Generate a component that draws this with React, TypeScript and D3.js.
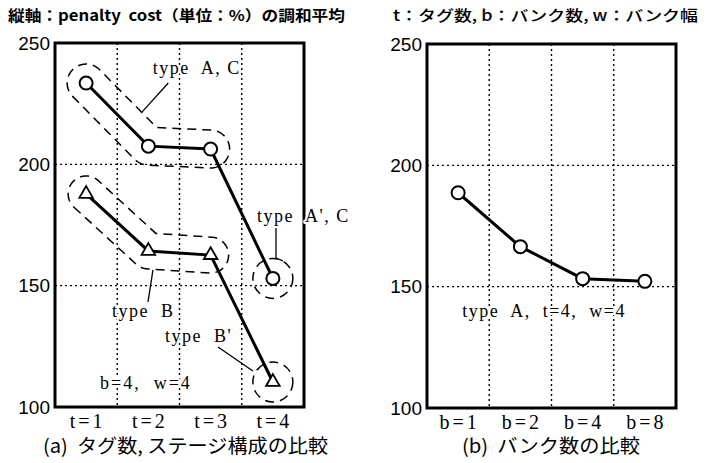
import React from 'react';
import * as d3 from 'd3';

// chart data
const tLabels = ['t=1', 't=2', 't=3', 't=4'];
const typeAC = [233.5, 207.5, 206.3, 153.0];
const typeB = [187.8, 164.3, 162.6, 110.3];
const bLabels = ['b=1', 'b=2', 'b=4', 'b=8'];
const bankCost = [188.7, 166.5, 153.3, 152.2];
const yTicks = [100, 150, 200, 250];
const gridValues = [150, 200];

const W = 708;
const H = 463;
const serif = '"Liberation Serif", "DejaVu Serif", serif';
const sans = '"Liberation Sans", Arial, sans-serif';
const cjk = '"Noto Sans CJK JP", "Noto Sans", sans-serif';

type Pt = [number, number];

// one side of a rounded buffer around a polyline, plus the end cap
function halfOutline(ps: Pt[], r: number, out: Pt[]) {
  const m = ps.length;
  const dir: Pt[] = [];
  for (let i = 0; i < m - 1; i++) {
    const dx = ps[i + 1][0] - ps[i][0];
    const dy = ps[i + 1][1] - ps[i][1];
    const L = Math.hypot(dx, dy);
    dir.push([dx / L, dy / L]);
  }
  const nor: Pt[] = dir.map(([x, y]) => [-y, x]);
  out.push([ps[0][0] + r * nor[0][0], ps[0][1] + r * nor[0][1]]);
  for (let i = 1; i < m - 1; i++) {
    const a = nor[i - 1];
    const b = nor[i];
    const c = dir[i - 1][0] * dir[i][1] - dir[i - 1][1] * dir[i][0];
    if (c > 0) {
      const bx = a[0] + b[0];
      const by = a[1] + b[1];
      const bl = Math.hypot(bx, by);
      const mx = bx / bl;
      const my = by / bl;
      const cs = mx * a[0] + my * a[1];
      out.push([ps[i][0] + (mx * r) / cs, ps[i][1] + (my * r) / cs]);
    } else {
      const a0 = Math.atan2(a[1], a[0]);
      let da = Math.atan2(b[1], b[0]) - a0;
      while (da > Math.PI) da -= 2 * Math.PI;
      while (da < -Math.PI) da += 2 * Math.PI;
      const steps = Math.max(2, Math.ceil(Math.abs(da) / 0.15));
      for (let k = 0; k <= steps; k++) {
        const t = a0 + (da * k) / steps;
        out.push([ps[i][0] + r * Math.cos(t), ps[i][1] + r * Math.sin(t)]);
      }
    }
  }
  const last = ps[m - 1];
  const nl = nor[m - 2];
  const dl = dir[m - 2];
  const steps = 20;
  for (let k = 0; k <= steps; k++) {
    const t = (Math.PI * k) / steps;
    out.push([
      last[0] + r * (Math.cos(t) * nl[0] + Math.sin(t) * dl[0]),
      last[1] + r * (Math.cos(t) * nl[1] + Math.sin(t) * dl[1]),
    ]);
  }
}

function envelope(ps: Pt[], r: number): string {
  const out: Pt[] = [];
  halfOutline(ps, r, out);
  halfOutline(ps.slice().reverse(), r, out);
  return (d3.line()(out) || '') + 'Z';
}

const halo = {
  whiteSpace: 'pre' as const,
  paintOrder: 'stroke' as const,
  stroke: '#fff',
  strokeWidth: 4,
  strokeLinejoin: 'round' as const,
};
const pre = { whiteSpace: 'pre' as const };

function Frame({ x, y, cats }: { x: d3.ScaleBand<string>; y: d3.ScaleLinear<number, number>; cats: string[] }) {
  const [x0, x1] = x.range();
  const [y0, y1] = y.range();
  return (
    <g>
      {gridValues.map((v) => (
        <line key={'h' + v} x1={x0} x2={x1} y1={y(v)} y2={y(v)} stroke="#000" strokeWidth={1.4} strokeDasharray="2,3" />
      ))}
      {cats.slice(1).map((c) => (
        <line key={'v' + c} x1={x(c)!} x2={x(c)!} y1={y1} y2={y0} stroke="#000" strokeWidth={1.4} strokeDasharray="2,3" />
      ))}
      {yTicks.map((v) => (
        <text key={'y' + v} x={x0 - 5} y={y(v) + 6.5} textAnchor="end" fontFamily={sans} fontSize={19}>
          {v}
        </text>
      ))}
      {cats.map((c) => (
        <text
          key={'x' + c}
          x={x(c)! + x.bandwidth() / 2 + 1.5}
          y={y0 + 21}
          textAnchor="middle"
          fontFamily={serif}
          fontSize={20}
          letterSpacing={3}
        >
          {c}
        </text>
      ))}
    </g>
  );
}

function FrameBorder({ x, y }: { x: d3.ScaleBand<string>; y: d3.ScaleLinear<number, number> }) {
  const [x0, x1] = x.range();
  const [y0, y1] = y.range();
  return <rect x={x0} y={y1} width={x1 - x0} height={y0 - y1} fill="none" stroke="#000" strokeWidth={3} />;
}

export default function App() {
  // left panel scales
  const xa = d3.scaleBand<string>().domain(tLabels).range([55, 304]);
  const ya = d3.scaleLinear().domain([100, 250]).range([407, 43]);
  const xla = d3.scaleLinear().domain([-0.5, 3.5]).range([55, 304]);
  const cx = (c: string) => xa(c)! + xa.bandwidth() / 2;

  // right panel scales
  const xb = d3.scaleBand<string>().domain(bLabels).range([427, 676]);
  const yb = d3.scaleLinear().domain([100, 250]).range([408, 44]);
  const xlb = d3.scaleLinear().domain([-0.5, 3.5]).range([427, 676]);
  const cxb = (c: string) => xb(c)! + xb.bandwidth() / 2;

  const line = d3.line<[number, number]>();
  const acPts: Pt[] = tLabels.map((c, i) => [cx(c), ya(typeAC[i])]);
  const bPts: Pt[] = tLabels.map((c, i) => [cx(c), ya(typeB[i])]);
  const bankPts: Pt[] = bLabels.map((c, i) => [cxb(c), yb(bankCost[i])]);
  const tri = d3.symbol(d3.symbolTriangle, 80)() || '';

  const dash = { fill: 'none', stroke: '#000', strokeWidth: 1.5, strokeDasharray: '9,6' };
  const leader = { fill: 'none', stroke: '#000', strokeWidth: 1.3 };

  return (
    <svg width={W} height={H} style={{ position: 'absolute', left: 0, top: 0, background: '#fff' }}>
      <rect width={W} height={H} fill="#fff" />
      <text x={8} y={21} fontFamily={cjk} fontWeight={700} fontSize={15} textLength={337} lengthAdjust="spacingAndGlyphs" style={pre}>
        縦軸：penalty  cost（単位：%）の調和平均
      </text>
      <text x={393} y={21} fontFamily={cjk} fontWeight={500} fontSize={15} textLength={305} lengthAdjust="spacingAndGlyphs" style={pre}>
        t：タグ数, b：バンク数, w：バンク幅
      </text>

      {/* panel (a) */}
      <Frame x={xa} y={ya} cats={tLabels} />
      <path d={envelope(acPts.slice(0, 3), 19)} {...dash} />
      <path d={envelope(bPts.slice(0, 3), 18)} {...dash} />
      <circle cx={acPts[3][0]} cy={acPts[3][1]} r={20} {...dash} />
      <circle cx={bPts[3][0]} cy={bPts[3][1]} r={20} {...dash} />
      <path d={line(acPts) || ''} fill="none" stroke="#000" strokeWidth={3} />
      <path d={line(bPts) || ''} fill="none" stroke="#000" strokeWidth={3} />
      {acPts.map((p, i) => (
        <circle key={'ac' + i} cx={p[0]} cy={p[1]} r={6.5} fill="#fff" stroke="#000" strokeWidth={2} />
      ))}
      {bPts.map((p, i) => (
        <path key={'b' + i} d={tri} transform={`translate(${p[0]},${p[1]})`} fill="#fff" stroke="#000" strokeWidth={1.8} />
      ))}

      {/* annotations */}
      <path d={line([[xla(0.9), ya(221.6)], [xla(1.32), ya(233.5)]]) || ''} {...leader} />
      <path d={line([[xla(3.05), ya(174.2)], [xla(3.05), ya(161.4)], [xla(3.16), ya(160.2)]]) || ''} {...leader} />
      <path d={line([[xla(1.074), ya(156.5)], [xla(0.994), ya(143.3)]]) || ''} {...leader} />
      <path d={line([[xla(2.118), ya(124.7)], [xla(2.68), ya(114.8)]]) || ''} {...leader} />
      <FrameBorder x={xa} y={ya} />
      <text x={xla(1.07)} y={ya(237.2)} fontFamily={serif} fontSize={18} letterSpacing={1.5} style={halo}>
        type  A, C
      </text>
      <text x={xla(2.745)} y={ya(176.2)} fontFamily={serif} fontSize={18} letterSpacing={1.5} style={halo}>
        type  A', C
      </text>
      <text x={xla(0.416)} y={ya(137.1)} fontFamily={serif} fontSize={18} letterSpacing={1.5} style={halo}>
        type  B
      </text>
      <text x={xla(1.267)} y={ya(126.8)} fontFamily={serif} fontSize={18} letterSpacing={1.5} style={halo}>
        type  B'
      </text>
      <text x={xla(0.223)} y={ya(107.4)} fontFamily={serif} fontSize={18} letterSpacing={2} style={halo}>
        b=4,  w=4
      </text>

      {/* panel (b) */}
      <Frame x={xb} y={yb} cats={bLabels} />
      <path d={line(bankPts) || ''} fill="none" stroke="#000" strokeWidth={3} />
      {bankPts.map((p, i) => (
        <circle key={'bk' + i} cx={p[0]} cy={p[1]} r={6.5} fill="#fff" stroke="#000" strokeWidth={2} />
      ))}
      <FrameBorder x={xb} y={yb} />
      <text x={xlb(0.065)} y={yb(137.5)} fontFamily={serif} fontSize={18} letterSpacing={1.5} style={halo}>
        type  A,  t=4,  w=4
      </text>

      {/* captions */}
      <text x={43} y={453} fontFamily={cjk} fontSize={19} textLength={285} lengthAdjust="spacingAndGlyphs" style={pre}>
        (a)  タグ数, ステージ構成の比較
      </text>
      <text x={462} y={453} fontFamily={cjk} fontSize={19} textLength={178} lengthAdjust="spacingAndGlyphs" style={pre}>
        (b)  バンク数の比較
      </text>
    </svg>
  );
}
